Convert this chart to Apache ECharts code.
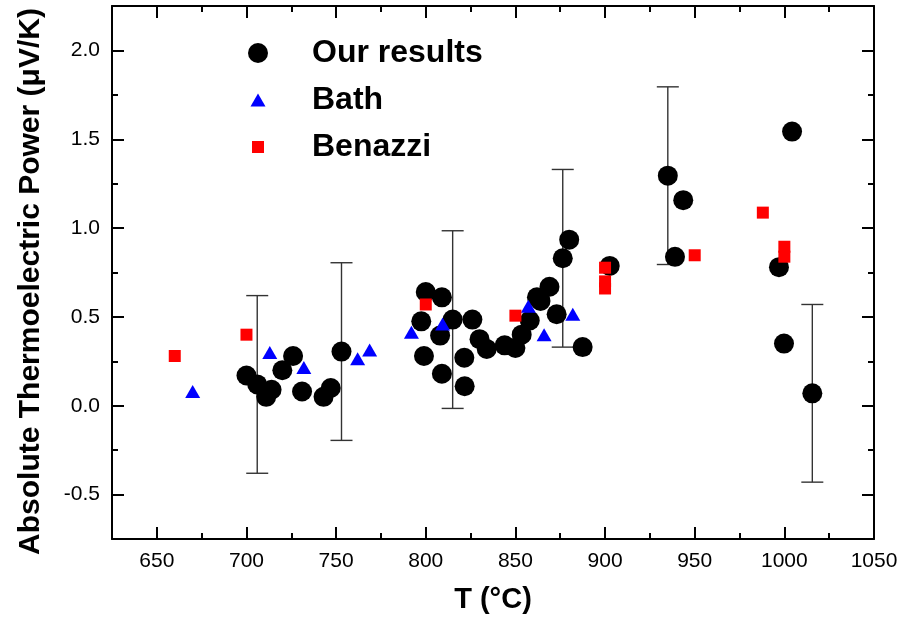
<!DOCTYPE html>
<html>
<head>
<meta charset="utf-8">
<script src="https://cdn.jsdelivr.net/npm/echarts@6/dist/echarts.min.js"></script>
<style>
html, body { margin: 0; padding: 0; background: #fff; }
#chart { width: 917px; height: 620px; }
</style>
</head>
<body>
<div id="chart"></div>
<script>
// Absolute thermoelectric power vs temperature

// Our results: temperature (°C), power (µV/K), half-width of error bar (null = none)
const ourT   = [700, 706, 711, 714, 720, 726, 731, 743, 747, 753,
                797.5, 799, 800, 808, 809, 809, 815, 821.5, 821.7, 826,
                830, 834, 844, 850, 853.5, 858, 862, 864, 869, 873,
                876.4, 880, 887.5, 902.6, 935, 939, 943.6, 997, 999.8, 1004.3, 1015.6];
const ourS   = [0.17, 0.12, 0.05, 0.09, 0.20, 0.28, 0.08, 0.05, 0.10, 0.305,
                0.475, 0.28, 0.64, 0.395, 0.61, 0.18, 0.485, 0.27, 0.11, 0.485,
                0.375, 0.32, 0.34, 0.325, 0.40, 0.48, 0.61, 0.59, 0.67, 0.515,
                0.83, 0.935, 0.33, 0.787, 1.295, 0.838, 1.157, 0.78, 0.35, 1.543, 0.07];
const ourErr = [null, 0.5, null, null, null, null, null, null, null, 0.5,
                null, null, null, null, null, null, 0.5, null, null, null,
                null, null, null, null, null, null, null, null, null, null,
                0.5, null, null, null, 0.5, null, null, null, null, null, 0.5];

// Bath
const bathT = [670, 713, 732, 762, 768.7, 792, 809.4, 857.2, 866, 882];
const bathS = [0.08, 0.30, 0.215, 0.265, 0.314, 0.414, 0.46, 0.56, 0.40, 0.515];

// Benazzi
const benT = [660, 700, 800, 850, 900, 900, 900, 950, 988, 1000, 1000];
const benS = [0.28, 0.40, 0.57, 0.507, 0.777, 0.70, 0.66, 0.847, 1.087, 0.895, 0.839];

// Axis ticks
const xMajorTicks = [650, 700, 750, 800, 850, 900, 950, 1000, 1050];
const xMinorTicks = [625, 675, 725, 775, 825, 875, 925, 975, 1025];
const yMajorTicks = [-0.5, 0.0, 0.5, 1.0, 1.5, 2.0];
const yMinorTicks = [-0.75, -0.25, 0.25, 0.75, 1.25, 1.75, 2.25];

const FONT = '"Liberation Sans", Arial, Helvetica, sans-serif';
const zip = (a, b) => a.map((v, i) => [v, b[i]]);

const errData = [];
ourT.forEach((t, i) => { if (ourErr[i] != null) errData.push([t, ourS[i], ourErr[i]]); });

function makeX(position, ticks, len, withLabels, withLine) {
  return {
    type: 'value', min: 625, max: 1050, interval: 25, position: position,
    axisLine: { show: withLine, onZero: false, lineStyle: { color: '#000', width: 2 } },
    axisTick: { show: true, inside: true, length: len, customValues: ticks, lineStyle: { color: '#000', width: 2 } },
    axisLabel: withLabels
      ? { show: true, customValues: ticks, margin: 12, color: '#000', fontSize: 21, fontFamily: FONT,
          formatter: v => String(v) }
      : { show: false },
    splitLine: { show: false }
  };
}
function makeY(position, ticks, len, withLabels, withLine) {
  return {
    type: 'value', min: -0.75, max: 2.25, interval: 0.25, position: position,
    axisLine: { show: withLine, onZero: false, lineStyle: { color: '#000', width: 2 } },
    axisTick: { show: true, inside: true, length: len, customValues: ticks, lineStyle: { color: '#000', width: 2 } },
    axisLabel: withLabels
      ? { show: true, customValues: ticks, margin: 12, color: '#000', fontSize: 21, fontFamily: FONT,
          formatter: v => v.toFixed(1) }
      : { show: false },
    splitLine: { show: false }
  };
}

const xMain = makeX('bottom', xMajorTicks, 12, true, true);
xMain.name = 'T (°C)';
xMain.nameLocation = 'middle';
xMain.nameGap = 46;
xMain.nameTextStyle = { fontSize: 29, fontWeight: 'bold', color: '#000', fontFamily: FONT };

const yMain = makeY('left', yMajorTicks, 12, true, true);
yMain.name = 'Absolute Thermoelectric Power (μV/K)';
yMain.nameLocation = 'middle';
yMain.nameGap = 66;
yMain.nameTextStyle = { fontSize: 30, fontWeight: 'bold', color: '#000', fontFamily: FONT,
                        padding: [0, 18, 0, 0] };

// one legend block per series so each keeps its own marker size
function legendBox(name, centerY, w, h) {
  const gap = 312 - (258 + w / 2) - 5;
  return {
    data: [name], orient: 'vertical', left: 258 - w / 2, top: centerY - 18, padding: 0,
    itemWidth: w, itemHeight: h, selectedMode: false,
    formatter: '{g|}{t|' + name + '}',
    textStyle: {
      color: '#000', fontFamily: FONT, lineHeight: 36,
      rich: {
        g: { width: gap, height: 36 },
        t: { fontSize: 32, fontWeight: 'bold', color: '#000', fontFamily: FONT, lineHeight: 36 }
      }
    }
  };
}

const chart = echarts.init(document.getElementById('chart'), null, { renderer: 'canvas' });
chart.setOption({
  animation: false,
  backgroundColor: '#fff',
  grid: { left: 112, right: 43, top: 6, bottom: 81, containLabel: false },
  xAxis: [
    xMain,
    makeX('bottom', xMinorTicks, 6, false, false),
    makeX('top', xMajorTicks, 12, false, true),
    makeX('top', xMinorTicks, 6, false, false)
  ],
  yAxis: [
    yMain,
    makeY('left', yMinorTicks, 6, false, false),
    makeY('right', yMajorTicks, 12, false, true),
    makeY('right', yMinorTicks, 6, false, false)
  ],
  legend: [
    legendBox('Our results', 53, 20, 20),
    legendBox('Bath', 100, 15, 13),
    legendBox('Benazzi', 147, 12, 12)
  ],
  series: [
    {
      name: 'error', type: 'custom', xAxisIndex: 0, yAxisIndex: 0, data: errData,
      encode: { x: 0, y: 1 }, z: 1, silent: true,
      renderItem: function (params, api) {
        const x = api.value(0), y = api.value(1), e = api.value(2);
        const top = api.coord([x, y + e]);
        const bot = api.coord([x, y - e]);
        const cap = 11;
        const style = { stroke: '#333', lineWidth: 1.4 };
        return {
          type: 'group',
          children: [
            { type: 'line', shape: { x1: top[0], y1: top[1], x2: bot[0], y2: bot[1] }, style: style },
            { type: 'line', shape: { x1: top[0] - cap, y1: top[1], x2: top[0] + cap, y2: top[1] }, style: style },
            { type: 'line', shape: { x1: bot[0] - cap, y1: bot[1], x2: bot[0] + cap, y2: bot[1] }, style: style }
          ]
        };
      }
    },
    {
      name: 'Our results', type: 'scatter', data: zip(ourT, ourS), z: 2,
      symbol: 'circle', symbolSize: 20, itemStyle: { color: '#000', opacity: 1 }
    },
    {
      name: 'Bath', type: 'scatter', data: zip(bathT, bathS), z: 3,
      symbol: 'triangle', symbolSize: [15, 13], itemStyle: { color: '#0000ff', opacity: 1 }
    },
    {
      name: 'Benazzi', type: 'scatter', data: zip(benT, benS), z: 4,
      symbol: 'rect', symbolSize: 12, itemStyle: { color: '#ff0000', opacity: 1 }
    }
  ]
});
</script>
</body>
</html>
